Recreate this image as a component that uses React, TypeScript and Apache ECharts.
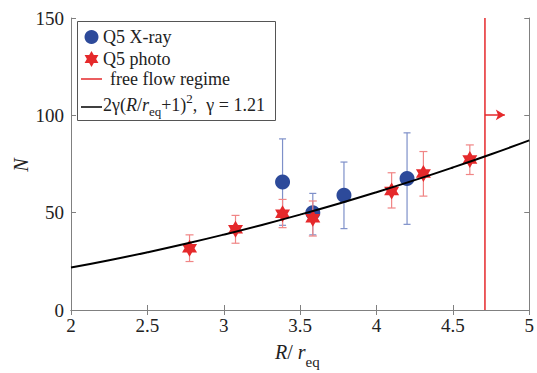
import React, { useEffect, useRef } from 'react';
import * as echarts from 'echarts';

// ---------- data ----------
const xTickLabels = ['2', '2.5', '3', '3.5', '4', '4.5', '5'];
const yTickLabels = ['0', '50', '100', '150'];

const xrayX = [3.385, 3.583, 3.787, 4.2];
const xrayN = [65.7, 50, 58.9, 67.6];
const xrayLow = [43.5, 38.6, 41.8, 44];
const xrayHigh = [87.9, 59.9, 76, 91];

const photoX = [2.776, 3.077, 3.385, 3.583, 4.099, 4.307, 4.611];
const photoN = [31.7, 41.5, 49.5, 47.1, 61.1, 70.1, 77.3];
const photoLow = [24.9, 34.3, 42.3, 38, 52.4, 58.5, 69.6];
const photoHigh = [38.6, 48.6, 56.8, 56, 70.5, 81.4, 84.8];

// model curve 2*gamma*(R/req+1)^2, gamma = 1.21 (tabulated values)
const fitX = [2, 2.25, 2.5, 2.75, 3, 3.25, 3.5, 3.75, 4, 4.25, 4.5, 4.75, 5];
const fitN = [21.78, 25.56, 29.65, 34.03, 38.72, 43.71, 49.01, 54.6, 60.5, 66.7, 73.21, 80.01, 87.12];

const freeFlowX = 4.71;
const freeFlowSpan = [0, 150];
const arrowY = 100.2;
const arrowEndX = 4.84;

// ---------- styles ----------
const SERIF = "'Liberation Serif', 'Times New Roman', serif";
const BLUE = '#2d4a9a';
const BLUE_BAR = '#7e90c9';
const RED = '#e5292b';
const RED_BAR = '#f08585';
const AXIS = '#808080';
const TEXT = '#222';

const STAR_PATH =
  'M0,-10 L2.887,-5 L8.66,-5 L5.77,0 L8.66,5 L2.887,5 L0,10 L-2.887,5 L-8.66,5 L-5.77,0 L-8.66,-5 L-2.887,-5 Z';

function starPoints(cx: number, cy: number, r: number) {
  const pts: number[][] = [];
  for (let i = 0; i < 12; i++) {
    const a = -Math.PI / 2 + (i * Math.PI) / 6;
    const rr = i % 2 === 0 ? r : r / Math.sqrt(3);
    pts.push([cx + rr * Math.cos(a), cy + rr * Math.sin(a)]);
  }
  return pts;
}

let ctx: CanvasRenderingContext2D | null = null;
function measure(text: string, font: string) {
  if (!ctx) ctx = document.createElement('canvas').getContext('2d');
  if (!ctx) return text.length * 8;
  ctx.font = font;
  return ctx.measureText(text).width;
}

type Piece = { text: string; size: number; italic?: boolean; dy?: number };
function textRun(pieces: Piece[], x0: number, y: number) {
  const out: any[] = [];
  let x = x0;
  for (const p of pieces) {
    const font = `${p.italic ? 'italic ' : ''}${p.size}px ${SERIF}`;
    out.push({
      type: 'text',
      x,
      y: y + (p.dy || 0),
      z: 100,
      style: {
        text: p.text,
        fontSize: p.size,
        fontFamily: SERIF,
        fontStyle: p.italic ? 'italic' : 'normal',
        fill: TEXT,
        textAlign: 'left',
        align: 'left',
        textVerticalAlign: 'middle',
        verticalAlign: 'middle',
      },
    });
    x += measure(p.text, font);
  }
  return out;
}

function errorBars(xs: number[], lows: number[], highs: number[], color: string, cap: number, z: number) {
  return {
    type: 'custom',
    z,
    silent: true,
    xAxisIndex: 0,
    yAxisIndex: 0,
    data: xs.map((x, i) => [x, lows[i], highs[i]]),
    encode: { x: 0, y: [1, 2] },
    renderItem: (_p: any, api: any) => {
      const x = api.value(0);
      const a = api.coord([x, api.value(2)]);
      const b = api.coord([x, api.value(1)]);
      const style = { stroke: color, lineWidth: 1.2 };
      return {
        type: 'group',
        children: [
          { type: 'line', shape: { x1: a[0], y1: a[1], x2: b[0], y2: b[1] }, style },
          { type: 'line', shape: { x1: a[0] - cap, y1: a[1], x2: a[0] + cap, y2: a[1] }, style },
          { type: 'line', shape: { x1: b[0] - cap, y1: b[1], x2: b[0] + cap, y2: b[1] }, style },
        ],
      };
    },
  };
}

export default function App() {
  const ref = useRef<HTMLDivElement>(null);

  useEffect(() => {
    if (!ref.current) return;
    const chart = echarts.init(ref.current, undefined, { renderer: 'svg' });

    const axisCommon = {
      axisLine: { show: true, lineStyle: { color: AXIS, width: 1 } },
      axisTick: { show: true, inside: true, length: 5, lineStyle: { color: AXIS } },
      splitLine: { show: false },
    };
    const labelStyle = { fontSize: 19, fontFamily: SERIF, color: TEXT };

    const legendBox = { x: 77, y: 21, w: 198, h: 99 };

    const option: any = {
      animation: false,
      backgroundColor: '#fff',
      textStyle: { fontFamily: SERIF },
      grid: { left: 71, right: 4.5, top: 18, bottom: 63 },
      xAxis: [
        {
          type: 'value', min: 2, max: 5, interval: 0.5, position: 'bottom',
          ...axisCommon,
          axisLabel: {
            ...labelStyle, margin: 6, showMinLabel: true, showMaxLabel: true,
            formatter: (v: number) => xTickLabels[Math.round((v - 2) / 0.5)] ?? String(v),
          },
        },
        {
          type: 'value', min: 2, max: 5, interval: 0.5, position: 'top',
          ...axisCommon, axisLabel: { show: false },
        },
      ],
      yAxis: [
        {
          type: 'value', min: 0, max: 150, interval: 50, position: 'left',
          ...axisCommon,
          axisLabel: {
            ...labelStyle, margin: 7, showMinLabel: true, showMaxLabel: true,
            formatter: (v: number) => yTickLabels[Math.round(v / 50)] ?? String(v),
          },
        },
        {
          type: 'value', min: 0, max: 150, interval: 50, position: 'right',
          ...axisCommon, axisLabel: { show: false },
        },
      ],
      series: [
        {
          type: 'line', z: 2, silent: true, symbol: 'none',
          data: freeFlowSpan.map((v) => [freeFlowX, v]),
          lineStyle: { color: RED, width: 1.5 },
        },
        {
          type: 'line', z: 2, silent: true,
          data: [
            { value: [freeFlowX, arrowY], symbol: 'none' },
            { value: [arrowEndX, arrowY], symbol: 'arrow', symbolRotate: -90, symbolSize: [8, 9] },
          ],
          itemStyle: { color: RED },
          lineStyle: { color: RED, width: 1.5 },
        },
        errorBars(xrayX, xrayLow, xrayHigh, BLUE_BAR, 3.5, 3),
        {
          type: 'scatter', z: 4, silent: true,
          data: xrayX.map((x, i) => [x, xrayN[i]]),
          symbol: 'circle', symbolSize: 15,
          itemStyle: { color: BLUE, opacity: 1 },
        },
        errorBars(photoX, photoLow, photoHigh, RED_BAR, 4, 5),
        {
          type: 'scatter', z: 6, silent: true,
          data: photoX.map((x, i) => [x, photoN[i]]),
          symbol: 'path://' + STAR_PATH, symbolSize: [15, 17],
          itemStyle: { color: RED, opacity: 1 },
        },
        {
          type: 'line', z: 7, silent: true, smooth: true, symbol: 'none',
          data: fitX.map((x, i) => [x, fitN[i]]),
          lineStyle: { color: '#000', width: 2 },
        },
      ],
      graphic: [
        {
          type: 'rect', z: 90,
          shape: { x: legendBox.x + 0.5, y: legendBox.y + 0.5, width: legendBox.w, height: legendBox.h },
          style: { fill: '#fff', stroke: '#555', lineWidth: 1 },
        },
        { type: 'circle', z: 100, shape: { cx: 91.5, cy: 37, r: 7 }, style: { fill: BLUE } },
        { type: 'polygon', z: 100, shape: { points: starPoints(91.5, 59, 8) }, style: { fill: RED } },
        { type: 'line', z: 100, shape: { x1: 81, y1: 79, x2: 102, y2: 79 }, style: { stroke: RED, lineWidth: 1.5 } },
        { type: 'line', z: 100, shape: { x1: 81, y1: 107, x2: 102, y2: 107 }, style: { stroke: '#000', lineWidth: 1.5 } },
        ...textRun([{ text: 'Q5 X-ray', size: 18 }], 103, 37),
        ...textRun([{ text: 'Q5 photo', size: 18 }], 103, 59),
        ...textRun([{ text: 'free flow regime', size: 18 }], 110, 79),
        ...textRun(
          [
            { text: '2γ(', size: 18 },
            { text: 'R', size: 18, italic: true },
            { text: '/', size: 18 },
            { text: 'r', size: 18, italic: true },
            { text: 'eq', size: 13, dy: 6 },
            { text: '+1)', size: 18 },
            { text: '2', size: 13, dy: -7 },
            { text: ',  γ = 1.21', size: 18 },
          ],
          103,
          105,
        ),
        ...textRun(
          [
            { text: 'R', size: 20, italic: true },
            { text: '/ ', size: 20 },
            { text: 'r', size: 20, italic: true },
            { text: 'eq', size: 15, dy: 10 },
          ],
          275,
          352,
        ),
        {
          type: 'text', z: 100, x: 21, y: 165, rotation: Math.PI / 2,
          style: {
            text: 'N', fontSize: 20, fontFamily: SERIF, fontStyle: 'italic', fill: TEXT,
            textAlign: 'center', align: 'center', textVerticalAlign: 'middle', verticalAlign: 'middle',
          },
        },
      ],
    };

    chart.setOption(option);
    return () => chart.dispose();
  }, []);

  return <div ref={ref} style={{ width: 537, height: 373, position: 'absolute', left: 0, top: 0 }} />;
}
